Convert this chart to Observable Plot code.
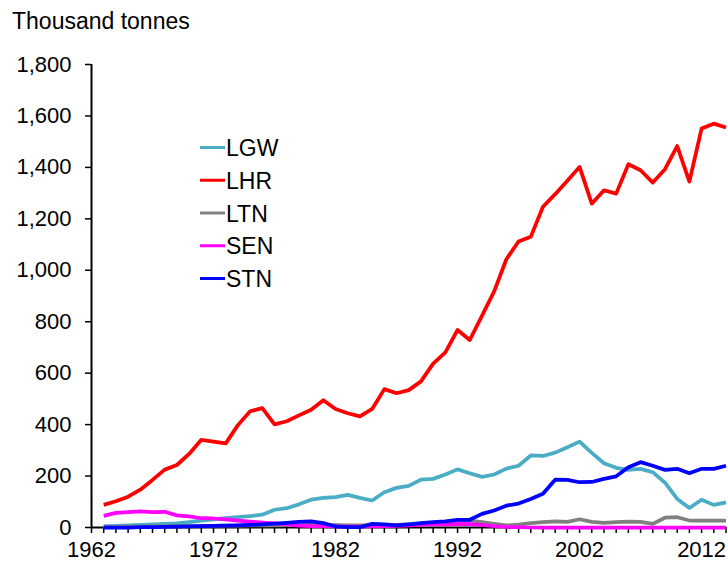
<!DOCTYPE html>
<html><head><meta charset="utf-8">
<script src="https://cdn.jsdelivr.net/npm/d3@7"></script>
<script src="https://cdn.jsdelivr.net/npm/@observablehq/plot@0.6"></script>
<style>
body{margin:0;background:#fff;}
#wrap{position:relative;width:728px;height:564px;font-family:"Liberation Sans",Arial,sans-serif;overflow:hidden;}
#title{position:absolute;left:12px;top:10px;font-size:23px;line-height:23px;color:#000;white-space:nowrap;}
#legend{position:absolute;left:0;top:0;pointer-events:none;}
#chart{position:absolute;left:0;top:0;}
</style></head><body>
<div id="wrap"><div id="chart"></div><div id="title">Thousand tonnes</div></div>
<script>
// ---- data ----
const years = [1963,1964,1965,1966,1967,1968,1969,1970,1971,1972,
  1973,1974,1975,1976,1977,1978,1979,1980,1981,1982,
  1983,1984,1985,1986,1987,1988,1989,1990,1991,1992,
  1993,1994,1995,1996,1997,1998,1999,2000,2001,2002,
  2003,2004,2005,2006,2007,2008,2009,2010,2011,2012,
  2013,2014];
const seriesNames = ["LGW","LHR","LTN","SEN","STN"];
const seriesColors = ["#4BACC6","#FF0000","#808080","#FF00FF","#0000FF"];
const LGW = [5,6,8,10,12,14,16,21,27,32,
  36,40,44,50,69,75,90,108,115,118,
  127,115,105,137,154,162,186,189,206,226,
  211,197,206,229,240,280,278,291,312,334,
  290,250,232,224,228,215,174,111,76,108,
  88,98];
const LHR = [88,102,120,147,185,225,243,286,341,334,
  327,398,452,464,401,413,436,458,495,461,
  444,432,461,538,522,534,568,637,681,768,
  729,823,918,1043,1112,1130,1247,1296,1348,1402,
  1259,1311,1298,1412,1389,1341,1393,1483,1345,1551,
  1570,1555];
const LTN = [2,2,3,3,4,4,5,5,6,6,
  7,7,8,8,8,9,9,10,10,9,
  8,8,9,10,10,12,15,17,20,22,
  27,21,14,8,11,17,21,24,22,32,
  22,18,21,23,22,14,38,40,27,27,
  27,27];
const SEN = [45,57,60,63,60,61,47,43,36,35,
  32,27,23,19,16,12,7,5,5,4,
  3,3,4,5,6,8,10,12,12,13,
  13,10,5,2,1,0,0,0,0,0,
  0,0,0,0,0,0,0,0,0,0,
  0,0];
const STN = [0,0,0,1,1,2,3,4,5,6,
  7,8,10,12,15,18,22,24,17,4,
  1,1,14,12,8,12,17,21,24,30,
  30,53,66,85,93,111,131,186,185,176,
  177,189,199,234,254,240,224,228,211,228,
  228,240];
const yTicks = [0,200,400,600,800,1000,1200,1400,1600,1800];
const xTickLabels = [1962,1972,1982,1992,2002,2012];
const xMinorTicks = [1962].concat(years);

// ---- build table ----
const valuesBySeries = {LGW, LHR, LTN, SEN, STN};
const data = [];
for (const s of seriesNames) {
  valuesBySeries[s].forEach((v, i) => data.push({series: s, year: years[i], value: v}));
}

const chart = Plot.plot({
  width: 728, height: 564,
  marginTop: 64, marginBottom: 37, marginLeft: 91, marginRight: 2.5,
  style: {fontFamily: "'Liberation Sans', Arial, sans-serif", fontSize: "22px", color: "#000", background: "#fff", overflow: "visible"},
  x: {domain: [1962, 2014]},
  y: {domain: [0, 1800]},
  color: {domain: seriesNames, range: seriesColors},
  marks: [
    Plot.axisY({ticks: yTicks, tickFormat: d3.format(","), tickSize: 6, tickPadding: 14, label: null, strokeWidth: 1.5}),
    Plot.axisX({ticks: xMinorTicks, tickFormat: d => xTickLabels.includes(d) ? String(d) : "", tickSize: 6, tickPadding: 8, label: null, strokeWidth: 1.5}),
    Plot.ruleX([1962], {stroke: "#000", strokeWidth: 2}),
    Plot.ruleY([0], {stroke: "#000", strokeWidth: 2}),
    Plot.line(data, {x: "year", y: "value", z: "series", stroke: "series", strokeWidth: 3.75, strokeLinejoin: "round", strokeLinecap: "butt"})
  ]
});
document.getElementById("chart").appendChild(chart);

// ---- legend ----
const leg = d3.select("#wrap").append("svg").attr("id", "legend").attr("width", 728).attr("height", 564);
const g = leg.selectAll("g").data(seriesNames).join("g")
  .attr("transform", (d, i) => `translate(200,${147.5 + i * 32.75})`);
g.append("line").attr("x1", 0).attr("x2", 25).attr("y1", 0).attr("y2", 0)
  .attr("stroke", (d, i) => seriesColors[i]).attr("stroke-width", 3);
g.append("text").attr("x", 26).attr("y", 8.5).text(d => d)
  .attr("font-family", "'Liberation Sans', Arial, sans-serif").attr("font-size", 23).attr("fill", "#000");
</script>
</body></html>
